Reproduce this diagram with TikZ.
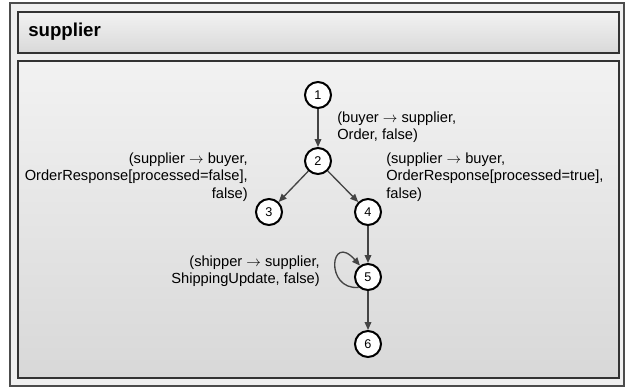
\documentclass[tikz,border=0pt]{standalone}
\usepackage{fontspec}
\setmainfont{Liberation Sans}
\usepackage{xcolor}
\usetikzlibrary{arrows.meta, positioning}

\definecolor{panelbg}{HTML}{EFEFEF}
\definecolor{paneltop}{HTML}{F2F2F2}
\definecolor{panelbot}{HTML}{D8D8D8}
\definecolor{edgegray}{HTML}{444444}

\begin{document}
\begin{tikzpicture}[x=0.75pt, y=-0.75pt,
    state/.style={circle, draw=black, line width=1.5pt, fill=white, minimum size=19.5pt, inner sep=0pt, font=\fontsize{9.5}{10}\selectfont},
    trans/.style={-{Triangle[length=6pt, width=5pt]}, draw=edgegray, line width=1pt},
    lbl/.style={inner sep=0pt, font=\fontsize{11}{13}\selectfont},
    frame/.style={draw=black!80, line width=1.4pt}]
    \useasboundingbox (0,0) rectangle (627,387);

    % panels
    \fill[white] (0,0) rectangle (627,387);
    \draw[fill=panelbg, draw=black!70, line width=0.8pt] (10,3) rectangle (624,386);
    \draw[frame, top color=paneltop, bottom color=black!15] (18,12) rectangle (619,53);
    \draw[frame, top color=paneltop, bottom color=panelbot] (18,61) rectangle (619,378);
    \node[anchor=west, inner sep=0pt, font=\fontsize{14}{16}\selectfont\bfseries] (title) at (28,32) {supplier};

    % states
    \node[state] (s1) at (318,95) {1};
    \node[state] (s2) at (318,161) {2};
    \node[state] (s3) at (269,212) {3};
    \node[state] (s4) at (368,212) {4};
    \node[state] (s5) at (368,277) {5};
    \node[state] (s6) at (368,344) {6};

    % transitions
    \draw[trans] (s1) -- (s2);
    \draw[trans] (s2) -- (s3);
    \draw[trans] (s2) -- (s4);
    \draw[trans] (s4) -- (s5);
    \draw[trans] (s5) -- (s6);
    \draw[trans] (s5.228) .. controls +(-34,3) and +(-30,-34) .. (s5.125);

    % labels
    \node[lbl, anchor=west, align=left] (l12) at (337,127) {(buyer~$\rightarrow$ supplier,\\Order, false)};
    \node[lbl, anchor=east, align=right] (l23) at (248,177) {(supplier~$\rightarrow$ buyer,\\OrderResponse[processed=false],\\false)};
    \node[lbl, anchor=west, align=left] (l24) at (386,177) {(supplier~$\rightarrow$ buyer,\\OrderResponse[processed=true],\\false)};
    \node[lbl, anchor=east, align=right] (l55) at (320,271) {(shipper~$\rightarrow$ supplier,\\ShippingUpdate, false)};
\end{tikzpicture}
\end{document}
